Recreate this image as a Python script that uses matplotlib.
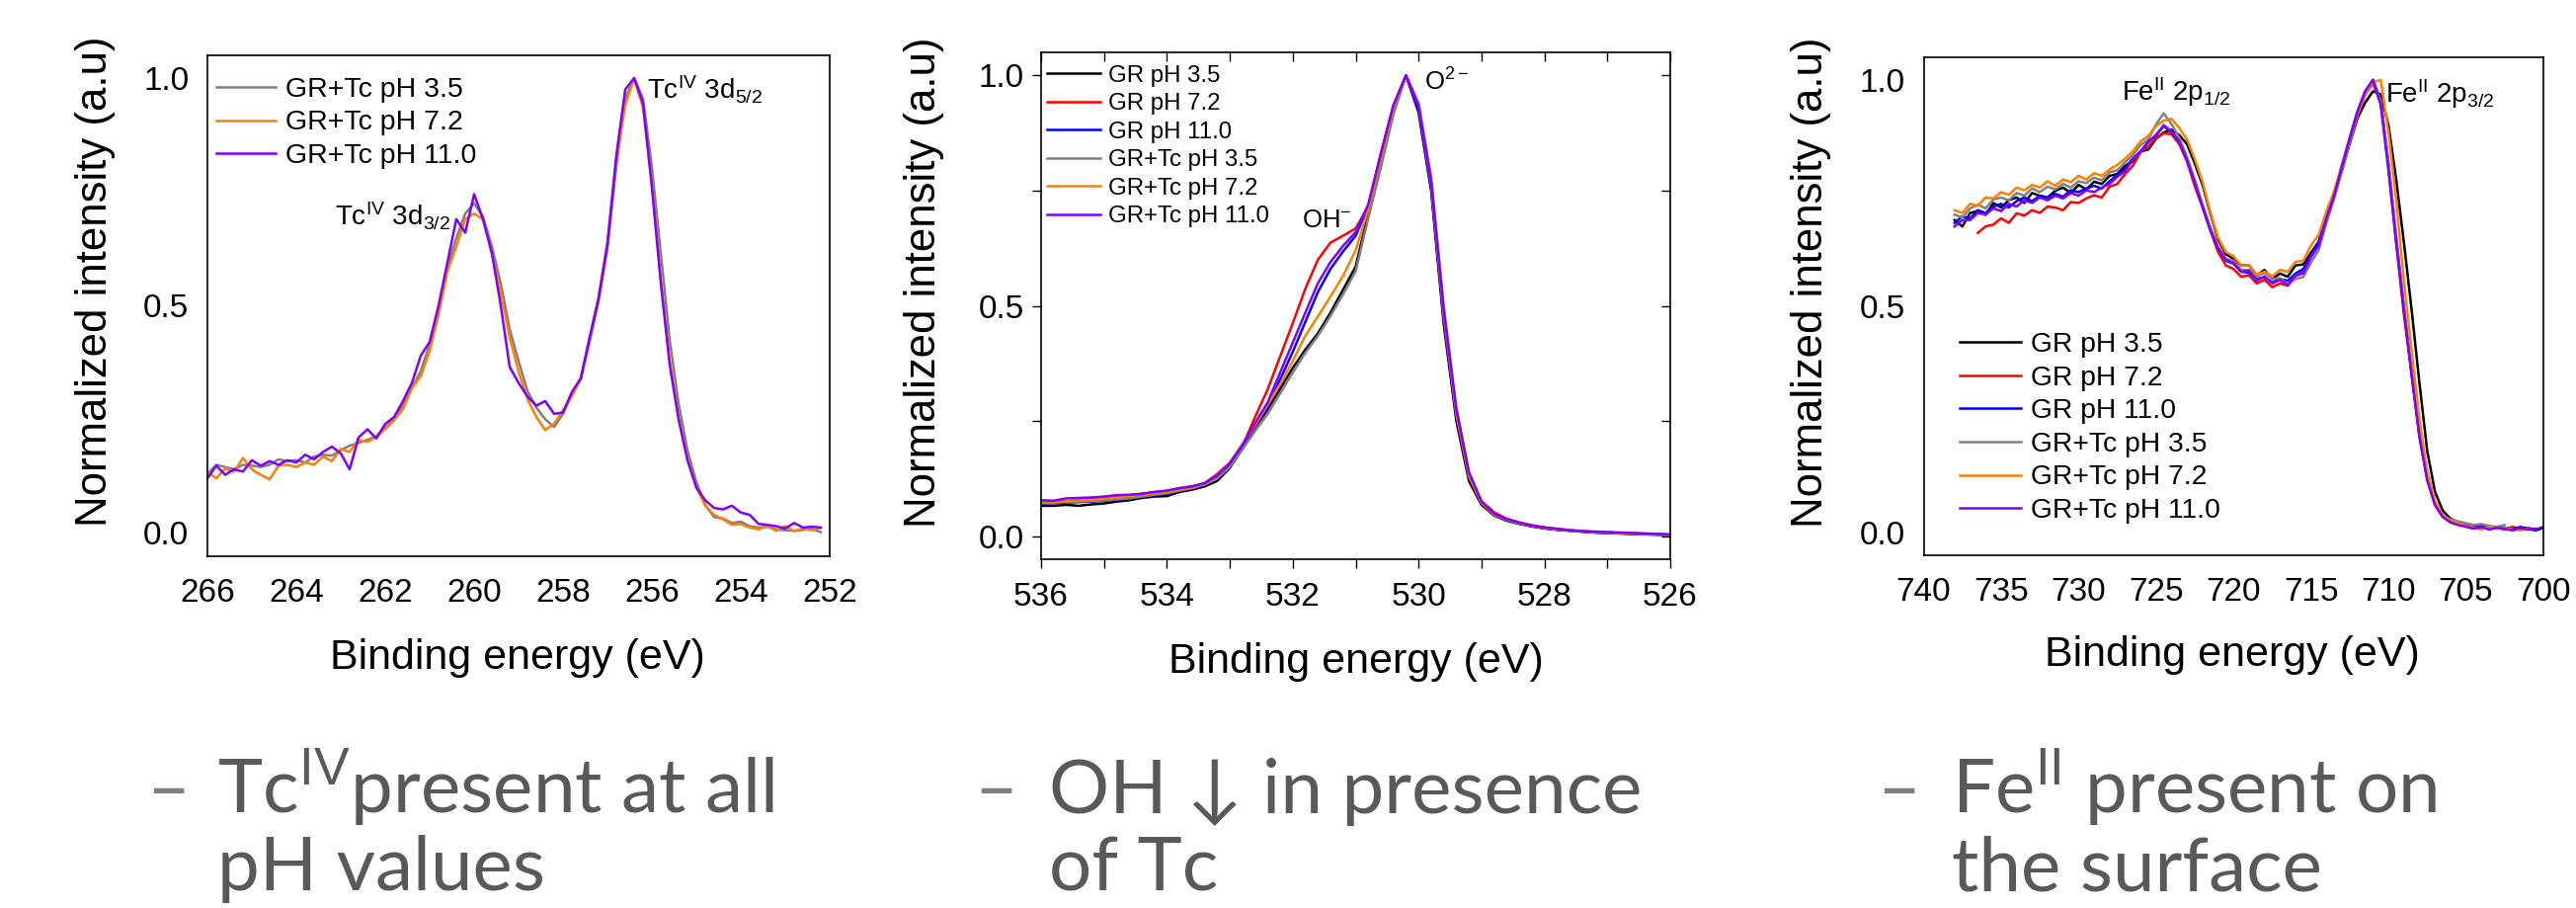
import numpy as np
import matplotlib
matplotlib.use("Agg")
from matplotlib import pyplot as plt
from matplotlib.ticker import MultipleLocator, FormatStrFormatter

plt.rcParams['font.family'] = ['Liberation Sans', 'DejaVu Sans']
plt.rcParams['mathtext.fontset'] = 'custom'
plt.rcParams['mathtext.rm'] = 'Liberation Sans'
plt.rcParams['mathtext.it'] = 'Liberation Sans:italic'
plt.rcParams['mathtext.bf'] = 'Liberation Sans:bold'

# ---- Tc 3d spectra (GR+Tc samples), 266 -> 252.2 eV
be_tc = np.round(np.arange(266.0, 252.1, -0.2), 1)
tc3d_ph35 = [0.130, 0.150, 0.145, 0.140, 0.150, 0.148, 0.145, 0.150, 0.162, 0.158,
             0.160, 0.155, 0.168, 0.172, 0.170, 0.182, 0.192, 0.198, 0.205, 0.212,
             0.232, 0.250, 0.282, 0.320, 0.356, 0.415, 0.495, 0.585, 0.648, 0.702,
             0.725, 0.695, 0.630, 0.548, 0.448, 0.378, 0.312, 0.276, 0.250, 0.233,
             0.262, 0.305, 0.338, 0.420, 0.510, 0.625, 0.805, 0.955, 1.000, 0.955,
             0.805, 0.615, 0.425, 0.285, 0.182, 0.112, 0.062, 0.035, 0.032, 0.022,
             0.025, 0.015, 0.012, 0.014, 0.008, 0.006, 0.005, 0.007, 0.009, 0.002]
tc3d_ph72 = [0.135, 0.120, 0.142, 0.135, 0.165, 0.140, 0.128, 0.118, 0.148, 0.150,
             0.145, 0.155, 0.150, 0.168, 0.158, 0.185, 0.178, 0.205, 0.200, 0.212,
             0.228, 0.248, 0.272, 0.318, 0.345, 0.400, 0.480, 0.575, 0.630, 0.690,
             0.702, 0.690, 0.615, 0.530, 0.430, 0.355, 0.295, 0.255, 0.226, 0.240,
             0.270, 0.300, 0.340, 0.430, 0.520, 0.640, 0.820, 0.940, 1.000, 0.935,
             0.770, 0.560, 0.380, 0.255, 0.165, 0.100, 0.060, 0.040, 0.030, 0.018,
             0.020, 0.012, 0.008, 0.015, 0.005, 0.015, 0.004, 0.010, 0.006, 0.012]
tc3d_ph110 = [0.120, 0.148, 0.128, 0.140, 0.135, 0.160, 0.148, 0.158, 0.150, 0.160,
              0.155, 0.172, 0.162, 0.178, 0.190, 0.175, 0.140, 0.210, 0.228, 0.208,
              0.240, 0.255, 0.290, 0.330, 0.390, 0.420, 0.500, 0.595, 0.690, 0.660,
              0.745, 0.690, 0.615, 0.500, 0.365, 0.330, 0.300, 0.280, 0.290, 0.262,
              0.265, 0.310, 0.340, 0.430, 0.515, 0.635, 0.830, 0.975, 1.000, 0.945,
              0.760, 0.550, 0.370, 0.250, 0.160, 0.100, 0.072, 0.055, 0.052, 0.060,
              0.045, 0.040, 0.020, 0.018, 0.015, 0.010, 0.022, 0.012, 0.014, 0.012]

# ---- O 1s spectra, 536 -> 526 eV
be_o = np.round(np.arange(536.0, 525.9, -0.2), 1)
o1s_gr35 = [0.066, 0.066, 0.068, 0.066, 0.069, 0.071, 0.075, 0.078, 0.083, 0.086, 0.087, 0.096, 0.101, 0.108,
            0.120, 0.148, 0.190, 0.235, 0.275, 0.320, 0.365, 0.405, 0.440, 0.485, 0.535, 0.585, 0.700, 0.810,
            0.925, 1.000, 0.920, 0.750, 0.460, 0.250, 0.120, 0.068, 0.045,
            0.034, 0.027, 0.021, 0.017, 0.014, 0.012, 0.010, 0.008, 0.007, 0.006, 0.005, 0.004, 0.004, 0.003]
o1s_gr72 = [0.074, 0.075, 0.076, 0.078, 0.080, 0.082, 0.085, 0.088, 0.092, 0.095, 0.098, 0.104, 0.108, 0.115,
            0.135, 0.160, 0.195, 0.258, 0.318, 0.390, 0.462, 0.537, 0.600, 0.637, 0.652, 0.668, 0.715, 0.830,
            0.935, 1.000, 0.930, 0.760, 0.475, 0.265, 0.132, 0.076, 0.052,
            0.038, 0.030, 0.024, 0.019, 0.016, 0.013, 0.011, 0.009, 0.008, 0.007, 0.006, 0.005, 0.004, 0.003]
o1s_gr110 = [0.071, 0.072, 0.073, 0.074, 0.075, 0.077, 0.079, 0.082, 0.085, 0.088, 0.092, 0.098, 0.104, 0.112,
             0.128, 0.155, 0.195, 0.238, 0.280, 0.340, 0.400, 0.465, 0.530, 0.580, 0.618, 0.652, 0.715, 0.825,
             0.930, 1.000, 0.925, 0.755, 0.470, 0.260, 0.128, 0.070, 0.046,
             0.034, 0.027, 0.022, 0.017, 0.014, 0.012, 0.010, 0.008, 0.007, 0.006, 0.005, 0.004, 0.003, 0.002]
o1s_tc35 = [0.072, 0.073, 0.074, 0.075, 0.076, 0.078, 0.080, 0.082, 0.086, 0.090, 0.093, 0.099, 0.104, 0.112,
            0.125, 0.150, 0.188, 0.228, 0.265, 0.310, 0.355, 0.398, 0.435, 0.478, 0.525, 0.575, 0.690, 0.800,
            0.915, 1.000, 0.940, 0.780, 0.500, 0.280, 0.140, 0.075, 0.048,
            0.036, 0.028, 0.022, 0.018, 0.015, 0.012, 0.010, 0.009, 0.008, 0.007, 0.006, 0.005, 0.004, 0.003]
o1s_tc72 = [0.073, 0.074, 0.076, 0.078, 0.079, 0.081, 0.084, 0.087, 0.090, 0.093, 0.096, 0.101, 0.106, 0.114,
            0.132, 0.160, 0.200, 0.240, 0.285, 0.330, 0.380, 0.435, 0.477, 0.520, 0.565, 0.620, 0.710, 0.820,
            0.930, 1.000, 0.935, 0.765, 0.480, 0.265, 0.130, 0.072, 0.047,
            0.036, 0.028, 0.023, 0.018, 0.015, 0.013, 0.011, 0.009, 0.008, 0.007, 0.006, 0.005, 0.004, 0.003]
o1s_tc110 = [0.078, 0.077, 0.082, 0.083, 0.084, 0.086, 0.089, 0.090, 0.092, 0.096, 0.099, 0.104, 0.108, 0.115,
             0.132, 0.158, 0.198, 0.245, 0.290, 0.355, 0.420, 0.485, 0.549, 0.595, 0.630, 0.660, 0.720, 0.830,
             0.935, 1.000, 0.935, 0.770, 0.490, 0.275, 0.138, 0.075, 0.049,
             0.037, 0.029, 0.023, 0.019, 0.016, 0.013, 0.011, 0.010, 0.009, 0.008, 0.007, 0.006, 0.005, 0.004]

# ---- Fe 2p spectra, 738 -> 700 eV
nan = np.nan
be_fe = np.round(np.arange(738.0, 699.9, -0.5), 1)
fe2p_gr35 = [0.690, 0.676, 0.706, 0.710, 0.702, 0.728, 0.718, 0.734, 0.740, 0.728,
             0.750, 0.744, 0.740, 0.755, 0.762, 0.750, 0.768, 0.758, 0.775, 0.770,
             0.788, 0.792, 0.810, 0.820, 0.842, 0.846, 0.870, 0.884, 0.890, 0.878,
             0.858, 0.815, 0.768, 0.705, 0.648, 0.615, 0.605, 0.590, 0.590, 0.568,
             0.580, 0.560, 0.572, 0.565, 0.590, 0.592, 0.618, 0.642, 0.695, 0.745,
             0.800, 0.860, 0.915, 0.950, 0.975, 0.968, 0.900, 0.780, 0.640, 0.490,
             0.330, 0.180, 0.090, 0.048, 0.030, 0.022, 0.018, 0.012, 0.016, 0.010,
             0.012, 0.008, 0.010, nan, nan, nan, nan]
fe2p_gr72 = [nan, nan, nan, 0.662, 0.676, 0.680, 0.694, 0.684, 0.705, 0.700,
             0.712, 0.706, 0.720, 0.718, 0.712, 0.730, 0.728, 0.738, 0.745, 0.740,
             0.764, 0.770, 0.792, 0.810, 0.840, 0.852, 0.872, 0.882, 0.880, 0.858,
             0.820, 0.765, 0.718, 0.668, 0.620, 0.590, 0.582, 0.565, 0.568, 0.550,
             0.558, 0.542, 0.550, 0.545, 0.566, 0.576, 0.610, 0.636, 0.692, 0.745,
             0.805, 0.862, 0.920, 0.968, 0.992, 0.950, 0.810, 0.640, 0.480, 0.350,
             0.215, 0.120, 0.062, 0.035, 0.022, 0.018, 0.014, 0.010, 0.012, 0.008,
             0.010, 0.006, 0.012, 0.008, 0.010, 0.006, 0.012]
fe2p_gr110 = [0.684, 0.698, 0.694, 0.712, 0.706, 0.720, 0.726, 0.718, 0.732, 0.740,
              0.732, 0.744, 0.740, 0.748, 0.742, 0.756, 0.752, 0.760, 0.766, 0.760,
              0.776, 0.790, 0.804, 0.826, 0.842, 0.862, 0.878, 0.898, 0.884, 0.864,
              0.825, 0.775, 0.722, 0.672, 0.630, 0.600, 0.594, 0.576, 0.574, 0.560,
              0.564, 0.552, 0.560, 0.556, 0.572, 0.582, 0.612, 0.642, 0.698, 0.750,
              0.812, 0.872, 0.930, 0.975, 1.000, 0.955, 0.815, 0.650, 0.495, 0.350,
              0.215, 0.118, 0.062, 0.035, 0.024, 0.018, 0.015, 0.012, 0.010, 0.012,
              0.008, 0.010, 0.006, 0.012, 0.008, 0.004, 0.010]
fe2p_tc35 = [0.702, 0.696, 0.716, 0.724, 0.716, 0.736, 0.740, 0.734, 0.750, 0.744,
             0.760, 0.752, 0.764, 0.758, 0.770, 0.762, 0.776, 0.772, 0.784, 0.778,
             0.796, 0.800, 0.818, 0.834, 0.856, 0.868, 0.902, 0.926, 0.902, 0.872,
             0.830, 0.780, 0.725, 0.675, 0.632, 0.605, 0.600, 0.580, 0.580, 0.566,
             0.574, 0.560, 0.562, 0.548, 0.560, 0.564, 0.596, 0.624, 0.684, 0.738,
             0.800, 0.862, 0.925, 0.970, 0.995, 0.955, 0.820, 0.655, 0.500, 0.355,
             0.220, 0.120, 0.065, 0.038, 0.028, 0.024, 0.020, 0.016, 0.018, 0.014,
             0.012, 0.016, nan, nan, nan, nan, nan]
fe2p_tc72 = [0.712, 0.706, 0.726, 0.722, 0.740, 0.738, 0.752, 0.746, 0.762, 0.756,
             0.768, 0.762, 0.776, 0.766, 0.780, 0.774, 0.788, 0.780, 0.794, 0.788,
             0.802, 0.812, 0.826, 0.842, 0.864, 0.876, 0.898, 0.910, 0.914, 0.894,
             0.868, 0.825, 0.775, 0.708, 0.652, 0.620, 0.610, 0.590, 0.590, 0.570,
             0.576, 0.566, 0.580, 0.576, 0.598, 0.600, 0.634, 0.658, 0.710, 0.755,
             0.812, 0.870, 0.925, 0.970, 0.995, 1.000, 0.885, 0.735, 0.555, 0.400,
             0.250, 0.135, 0.070, 0.038, 0.026, 0.020, 0.014, 0.010, 0.006, 0.012,
             0.008, 0.010, 0.006, 0.004, 0.008, nan, nan]
fe2p_tc110 = [0.676, 0.690, 0.690, 0.706, 0.702, 0.716, 0.710, 0.726, 0.720, 0.734,
              0.728, 0.740, 0.734, 0.744, 0.738, 0.750, 0.744, 0.756, 0.752, 0.762,
              0.770, 0.786, 0.798, 0.824, 0.842, 0.864, 0.878, 0.900, 0.886, 0.864,
              0.822, 0.772, 0.720, 0.668, 0.628, 0.602, 0.595, 0.576, 0.578, 0.556,
              0.566, 0.550, 0.558, 0.546, 0.568, 0.572, 0.608, 0.634, 0.694, 0.745,
              0.808, 0.870, 0.930, 0.975, 1.000, 0.945, 0.800, 0.640, 0.490, 0.345,
              0.210, 0.115, 0.060, 0.034, 0.022, 0.016, 0.012, 0.008, 0.012, 0.006,
              0.010, 0.008, 0.004, 0.010, 0.006, 0.008, nan]

labels_all = ["GR pH 3.5", "GR pH 7.2", "GR pH 11.0",
              "GR+Tc pH 3.5", "GR+Tc pH 7.2", "GR+Tc pH 11.0"]
colors_all = ["black", "#ff0000", "#0000ff", "#808080", "#ff7f00", "#7f00ff"]

bullets = [("Tc$^{\\mathrm{IV}}$present at all", "pH values"),
           ("OH \u2193 in presence", "of Tc"),
           ("Fe$^{\\mathrm{II}}$ present on", "the surface")]

W, H = 2608, 919
fig = plt.figure(figsize=(W / 100, H / 100), dpi=100)


def box(l, r, t, b):
    return [l / W, 1 - b / H, (r - l) / W, (b - t) / H]


ax1 = fig.add_axes(box(210, 840, 56, 562.5))
ax2 = fig.add_axes(box(1054, 1691, 53, 566))
ax3 = fig.add_axes(box(1947.5, 2575, 58, 561.6))

lw = 1.8

# panel 1
for yv, lab, c in zip([tc3d_ph35, tc3d_ph72, tc3d_ph110], labels_all[3:], colors_all[3:]):
    ax1.plot(be_tc, yv, color=c, lw=lw, label=lab)
# panel 2
for yv, lab, c in zip([o1s_gr35, o1s_gr72, o1s_gr110, o1s_tc35, o1s_tc72, o1s_tc110],
                      labels_all, colors_all):
    ax2.plot(be_o, yv, color=c, lw=lw, label=lab)
# panel 3
for yv, lab, c in zip([fe2p_gr35, fe2p_gr72, fe2p_gr110, fe2p_tc35, fe2p_tc72, fe2p_tc110],
                      labels_all, colors_all):
    ax3.plot(be_fe, yv, color=c, lw=lw, label=lab)

ax1.set_xlim(266, 252)
ax2.set_xlim(536, 526)
ax3.set_xlim(740, 700)
ax1.xaxis.set_major_locator(MultipleLocator(2))
ax2.xaxis.set_major_locator(MultipleLocator(2))
ax2.xaxis.set_minor_locator(MultipleLocator(1))
ax3.xaxis.set_major_locator(MultipleLocator(5))

for ax in (ax1, ax2, ax3):
    ax.set_ylim(-0.05, 1.05)
    ax.set_yticks([0.0, 0.5, 1.0])
    ax.yaxis.set_major_formatter(FormatStrFormatter('%.1f'))
    for s in ax.spines.values():
        s.set_linewidth(1.2)
    ax.set_ylabel("Normalized intensity (a.u)", fontsize=31.5)
    ax.set_xlabel("Binding energy (eV)", fontsize=31)

for ax in (ax1, ax3):
    ax.tick_params(axis='both', length=0, labelsize=24)
    ax.tick_params(axis='x', pad=16)
    ax.tick_params(axis='y', pad=13.5)

ax2.yaxis.set_minor_locator(MultipleLocator(0.25))
ax2.tick_params(which='both', direction='out', length=6.5, width=1.0, labelsize=24,
                top=True, right=True)
ax2.tick_params(axis='x', pad=10)
ax2.tick_params(axis='y', pad=6)
# inward ticks on top and right
for t in ax2.xaxis.get_major_ticks() + ax2.xaxis.get_minor_ticks():
    t.tick2line.set_marker(3)
for t in ax2.yaxis.get_major_ticks() + ax2.yaxis.get_minor_ticks():
    t.tick2line.set_marker(0)

ax1.yaxis.set_label_coords(-0.148, 0.548)
ax2.yaxis.set_label_coords(-0.154, 0.546)
ax3.yaxis.set_label_coords(-0.149, 0.547)
ax1.xaxis.set_label_coords(0.499, -0.165)
ax2.xaxis.set_label_coords(0.500, -0.164)
ax3.xaxis.set_label_coords(0.498, -0.162)

leg_kw = dict(frameon=False, loc='upper left', borderpad=0, borderaxespad=0,
              handletextpad=0.35, labelspacing=0.27)
ax1.legend(bbox_to_anchor=(0.014, 0.957), fontsize=20.5, handlelength=2.13, **leg_kw)
ax2.legend(bbox_to_anchor=(0.009, 0.975), fontsize=17.3, handlelength=2.25, **leg_kw)
ax3.legend(bbox_to_anchor=(0.058, 0.448), fontsize=20.3, handlelength=2.22, **leg_kw)

# peak labels
ax1.text(263.13, 0.675, "Tc$^{\\mathrm{IV}}$ 3d$_{3/2}$", fontsize=20)
ax1.text(256.1, 0.953, "Tc$^{\\mathrm{IV}}$ 3d$_{5/2}$", fontsize=20)
ax2.text(531.85, 0.670, "OH$^{-}$", fontsize=18.5)
ax2.text(529.91, 0.967, "O$^{2-}$", fontsize=18.5)
ax3.text(727.24, 0.953, "Fe$^{\\mathrm{II}}$ 2p$_{1/2}$", fontsize=20)
ax3.text(710.19, 0.950, "Fe$^{\\mathrm{II}}$ 2p$_{3/2}$", fontsize=20)

# bullet text under the plots
dash_x = [148, 986, 1900]
text_x = [220, 1062, 1976]
for dx, tx, (l1, l2) in zip(dash_x, text_x, bullets):
    fig.text(dx / W, 1 - 823 / H, "\u2013", fontsize=55, color="#7f7f7f",
             family=['Lato', 'DejaVu Sans'], va='baseline')
    fig.text(tx / W, 1 - 823 / H, l1, fontsize=55, color="#595959",
             family=['Lato', 'DejaVu Sans'], va='baseline')
    fig.text(tx / W, 1 - 901 / H, l2, fontsize=55, color="#595959",
             family=['Lato', 'DejaVu Sans'], va='baseline')

fig.savefig("out.png", dpi=100)
plt.close()
